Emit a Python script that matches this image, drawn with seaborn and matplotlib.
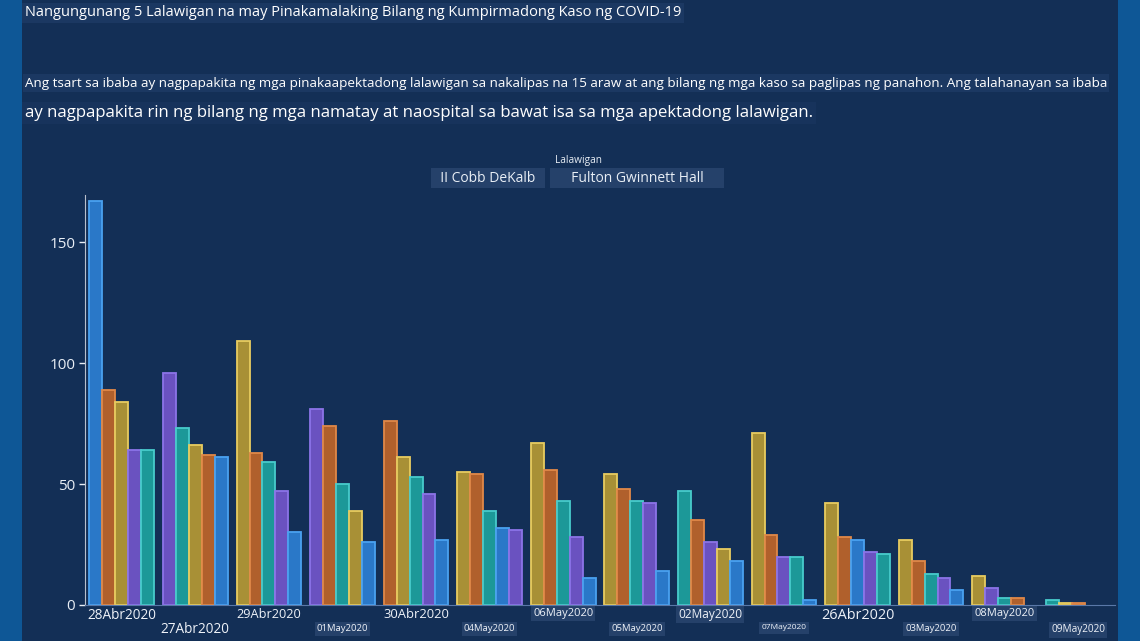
import pandas as pd
import matplotlib.pyplot as plt
from matplotlib.patches import Rectangle
import seaborn as sns

sns.set_style("ticks")
plt.rcParams['font.family'] = ['Open Sans', 'DejaVu Sans']

# mga petsa (ayon sa pagkakasunod sa tsart)
petsa = ['28Abr2020', '27Abr2020', '29Abr2020', '01May2020', '30Abr2020', '04May2020', '06May2020',
         '05May2020', '02May2020', '07May2020', '26Abr2020', '03May2020', '08May2020', '09May2020']

lalawigan = ['Cobb', 'DeKalb', 'Fulton', 'Gwinnett', 'Hall']

cobb = [167, 61, 30, 26, 27, 32, 11, 14, 18, 2, 27, 6, 0, 0]
dekalb = [89, 62, 63, 74, 76, 54, 56, 48, 35, 29, 28, 18, 3, 1]
fulton = [84, 66, 109, 39, 61, 55, 67, 54, 23, 71, 42, 27, 12, 1]
gwinnett = [64, 96, 47, 81, 46, 31, 28, 42, 26, 20, 22, 11, 7, 0]
hall = [64, 73, 59, 50, 53, 39, 43, 43, 47, 20, 21, 13, 3, 2]

kulay = {'Cobb': '#2a78c8', 'DeKalb': '#b0602c', 'Fulton': '#a89036',
         'Gwinnett': '#6a52c0', 'Hall': '#1c9898'}
gilid = {'Cobb': '#4aa2f0', 'DeKalb': '#e08848', 'Fulton': '#e8cc60',
         'Gwinnett': '#8c74e8', 'Hall': '#48cccc'}

# ayos ng pagkakapantay (tie-break) sa loob ng bawat grupo
tie = {'Fulton': 0, 'Gwinnett': 1, 'Hall': 2, 'DeKalb': 3, 'Cobb': 4}

rows = []
for name, vals in zip(lalawigan, [cobb, dekalb, fulton, gwinnett, hall]):
    for d, v in zip(petsa, vals):
        rows.append({'petsa': d, 'lalawigan': name, 'kaso': v, 'tie': tie[name]})
df = pd.DataFrame(rows)
df = df.sort_values(['petsa', 'kaso', 'tie'], ascending=[True, False, True])
df['ranggo'] = df.groupby('petsa').cumcount()

W, H = 1140, 641
fig = plt.figure(figsize=(W / 100, H / 100), dpi=100)
fig.patch.set_facecolor('#0e5796')
fig.add_artist(Rectangle((22 / W, 0), (1118 - 22) / W, 1, transform=fig.transFigure,
                         facecolor='#132f56', edgecolor='none', zorder=0))

fig.text(25 / W, 1 - 13 / H, 'Nangungunang 5 Lalawigan na may Pinakamalaking Bilang ng Kumpirmadong Kaso ng COVID-19',
         fontsize=10.5, color='white', va='center', ha='left',
         bbox=dict(facecolor='#1b3862', edgecolor='none', pad=2))
fig.text(25 / W, 1 - 83 / H,
         'Ang tsart sa ibaba ay nagpapakita ng mga pinakaapektadong lalawigan sa nakalipas na 15 araw at ang bilang ng mga kaso sa paglipas ng panahon. Ang talahanayan sa ibaba',
         fontsize=9.7, color='white', va='center', ha='left',
         bbox=dict(facecolor='#1b3862', edgecolor='none', pad=1.5))
fig.text(25 / W, 1 - 113 / H,
         'ay nagpapakita rin ng bilang ng mga namatay at naospital sa bawat isa sa mga apektadong lalawigan.',
         fontsize=12.1, color='white', va='center', ha='left',
         bbox=dict(facecolor='#17335c', edgecolor='none', pad=2))

# legend na parang teksto
fig.text(578 / W, 1 - 160 / H, 'Lalawigan', fontsize=7.3, color='#e8eef5', ha='center', va='center')
fig.text(488 / W, 1 - 178 / H, '  II Cobb DeKalb  ', fontsize=10, color='#e8eef5', ha='center', va='center',
         bbox=dict(facecolor='#25416a', edgecolor='none', pad=1.5))
fig.text(637 / W, 1 - 178 / H, '     Fulton Gwinnett Hall     ', fontsize=10, color='#e8eef5', ha='center', va='center',
         bbox=dict(facecolor='#25416a', edgecolor='none', pad=1.5))

ax = fig.add_axes([85 / W, 36 / H, 1030 / W, 410 / H])
ax.set_facecolor('none')

sns.barplot(data=df, x='petsa', y='kaso', hue='ranggo', order=petsa, hue_order=list(range(5)),
            dodge=True, width=0.88, legend=False, ax=ax, palette=['#888888'] * 5,
            linewidth=1.3, saturation=1)

lookup = {(r.petsa, r.ranggo): r.lalawigan for r in df.itertuples()}
for rank, cont in enumerate(ax.containers):
    for bar in cont:
        idx = int(round(bar.get_x() + bar.get_width() / 2))
        name = lookup[(petsa[idx], rank)]
        bar.set_facecolor(kulay[name])
        bar.set_edgecolor(gilid[name])
        if bar.get_height() == 0:
            bar.set_visible(False)

ax.set_xlim(-0.5, len(petsa) - 0.5)
ax.set_ylim(0, 169.5)
ax.set_yticks([0, 50, 100, 150])
ax.set_xlabel('')
ax.set_ylabel('')
sns.despine(ax=ax)
ax.spines['left'].set_color('#b8c0cc')
ax.spines['bottom'].set_color('#5a78a8')
ax.tick_params(axis='y', colors='#e8eef5', labelsize=11, length=4, width=1, pad=3)
ax.tick_params(axis='x', length=0, colors='#e8eef5')

# istilo ng bawat label ng petsa: (pad, laki, may kahon)
istilo = [(2, 9.8, False), (12, 9.8, False), (2, 9.2, False), (14, 6.8, True), (2, 9.4, False),
          (14, 6.8, True), (2, 8.0, True), (14, 6.8, True), (2, 8.6, True), (14, 6.0, True),
          (2, 10.4, False), (14, 6.8, True), (2, 8.0, True), (14, 7.2, True)]
ticks = ax.xaxis.get_major_ticks()
for tk, (pad, size, box) in zip(ticks, istilo):
    tk.set_pad(pad)
    tk.label1.set_fontsize(size)
    tk.label1.set_color('#eef2f8')
    if box:
        tk.label1.set_bbox(dict(facecolor='#25416a', edgecolor='none', pad=1.5))

fig.savefig('out.png', dpi=100, facecolor=fig.get_facecolor())
